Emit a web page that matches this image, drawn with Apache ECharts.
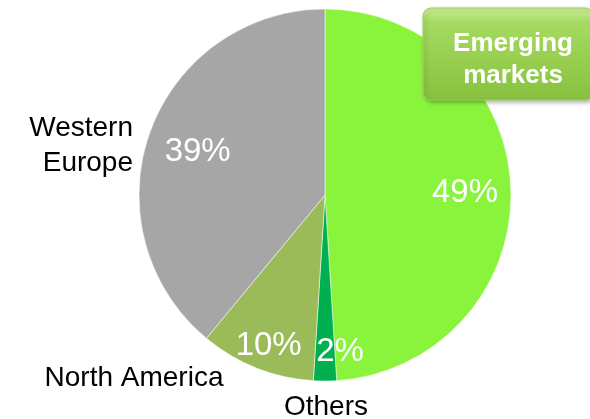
<!DOCTYPE html>
<html>
<head>
<meta charset="utf-8">
<script src="https://cdn.jsdelivr.net/npm/echarts@6/dist/echarts.min.js"></script>
<style>
	html, body { margin: 0; padding: 0; background: #fff; }
	#main { width: 590px; height: 419px; }
</style>
</head>
<body>
<div id="main"></div>
<script>
// regions, clockwise from 12 o'clock
var regions = ['Emerging markets', 'Others', 'North America', 'Western Europe'];
var shares = [49, 2, 10, 39];
var sliceColors = ['#8AF43D', '#00B050', '#9BBB59', '#A6A6A6'];

// where the share labels sit, shifted from the default inside spot
var shareShift = [[44, 1], [15, 61], [-21, 62], [-37, -11]];
// where the region names sit
var namePos = [
	{ x: 513, y: 60, align: 'center' },
	{ x: 326, y: 407, align: 'center' },
	{ x: 134, y: 378, align: 'center' },
	{ x: 133, y: 146, align: 'right' }
];

var chart = echarts.init(document.getElementById('main'));

var pieData = regions.map(function(name, i) {
	return { name: name, value: shares[i], itemStyle: { color: sliceColors[i] } };
});

var option = {
	animation: false,
	graphic: [{
		type: 'rect',
		z: 3,
		shape: { x: 423, y: 8, width: 170, height: 92, r: 8 },
		style: {
			fill: new echarts.graphic.LinearGradient(0, 0, 0, 1, [
				{ offset: 0, color: '#CDF29A' },
				{ offset: 0.15, color: '#A5DB62' },
				{ offset: 0.6, color: '#96CD4E' },
				{ offset: 1, color: '#87C13F' }
			]),
			stroke: '#9ED35A',
			lineWidth: 1,
			shadowBlur: 4,
			shadowOffsetX: 2,
			shadowOffsetY: 2,
			shadowColor: 'rgba(0,0,0,0.3)'
		}
	}],
	series: [{
		type: 'pie',
		z: 2,
		center: [325, 195],
		radius: 186,
		startAngle: 90,
		clockwise: true,
		silent: true,
		itemStyle: { borderColor: 'rgba(255,255,255,0.5)', borderWidth: 1 },
		label: {
			show: true,
			position: 'inside',
			formatter: function(p) { return p.value + '%'; },
			color: '#fff',
			fontFamily: 'Liberation Sans, Arial, sans-serif',
			fontSize: 33
		},
		labelLine: { show: false },
		labelLayout: function(p) {
			var s = shareShift[p.dataIndex];
			return { dx: s[0], dy: s[1] };
		},
		data: pieData
	}, {
		type: 'pie',
		z: 4,
		center: [325, 195],
		radius: 186,
		startAngle: 90,
		clockwise: true,
		silent: true,
		itemStyle: { color: 'rgba(0,0,0,0)' },
		label: {
			show: true,
			position: 'inside',
			formatter: function(p) {
				return p.dataIndex === 1 || p.dataIndex === 2 ? p.name : p.name.replace(' ', '\n');
			},
			color: '#000',
			fontFamily: 'Liberation Sans, Arial, sans-serif',
			fontSize: 28,
			lineHeight: 35
		},
		labelLine: { show: false },
		labelLayout: function(p) {
			var n = namePos[p.dataIndex];
			return { x: n.x, y: n.y, align: n.align, verticalAlign: 'middle' };
		},
		data: regions.map(function(name, i) {
			var d = { name: name, value: shares[i] };
			if (i === 0) {
				d.label = { color: '#fff', fontWeight: 'bold', fontSize: 26, lineHeight: 32 };
			}
			return d;
		})
	}]
};

chart.setOption(option);
</script>
</body>
</html>
